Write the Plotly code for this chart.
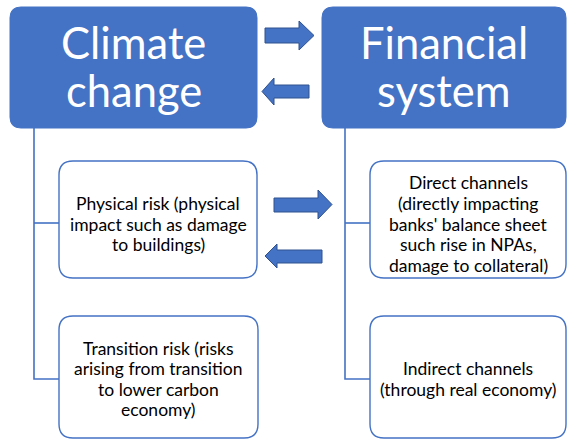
import plotly.graph_objects as go

W, H = 567, 440
BLUE = "#4472C4"
DARK = "#2F528F"

# ---- diagram content ----
top_titles = [["Climate", "change"], ["Financial", "system"]]
left_items = [
    ["Physical risk (physical", "impact such as damage", "to buildings)"],
    ["Transition risk (risks", "arising from transition", "to lower carbon", "economy)"],
]
right_items = [
    ["Direct channels", "(directly impacting", "banks' balance sheet", "such rise in NPAs,", "damage to collateral)"],
    ["Indirect channels", "(through real economy)"],
]

# ---- layout geometry (pixels, y downward) ----
top_boxes = [(10, 7, 257, 128), (322, 7, 566, 128)]
sub_boxes_left = [(59, 161, 257, 278), (59, 316, 258, 438)]
sub_boxes_right = [(370, 161, 566, 278), (370, 316, 566, 438)]
text_centers_y = [224, 379, 224, 379]


def rrect(x0, y0, x1, y1, r):
    return (f"M {x0+r},{y0} L {x1-r},{y0} Q {x1},{y0} {x1},{y0+r} "
            f"L {x1},{y1-r} Q {x1},{y1} {x1-r},{y1} L {x0+r},{y1} "
            f"Q {x0},{y1} {x0},{y1-r} L {x0},{y0+r} Q {x0},{y0} {x0+r},{y0} Z")


def arrow(x_tail, x_head_base, x_tip, ys0, ys1, yh0, yh1):
    ym = (yh0 + yh1) / 2
    return (f"M {x_tail},{ys0} L {x_head_base},{ys0} L {x_head_base},{yh0} "
            f"L {x_tip},{ym} L {x_head_base},{yh1} L {x_head_base},{ys1} "
            f"L {x_tail},{ys1} Z")


shapes = []
# connectors
for (vx, bx, y_top, ys) in [(34, 59, 128, [223, 379]), (345, 370, 128, [223, 379])]:
    shapes.append(dict(type="path", path=f"M {vx},{y_top} L {vx},{ys[1]} L {bx},{ys[1]}",
                       line=dict(color=BLUE, width=1.6), xref="x", yref="y"))
    shapes.append(dict(type="line", x0=vx, x1=bx, y0=ys[0], y1=ys[0],
                       line=dict(color=BLUE, width=1.6), xref="x", yref="y"))

for b in top_boxes:
    shapes.append(dict(type="path", path=rrect(*b, 11), fillcolor=BLUE,
                       line=dict(color=BLUE, width=1), xref="x", yref="y"))
for b in sub_boxes_left + sub_boxes_right:
    shapes.append(dict(type="path", path=rrect(*b, 14), fillcolor="white",
                       line=dict(color=BLUE, width=1.4), xref="x", yref="y"))

arrows = [
    arrow(265, 299, 314, 28, 43, 21, 50),
    arrow(309, 274, 262, 85, 98, 78, 105),
    arrow(274, 318, 332, 198, 212, 190, 219),
    arrow(322, 277, 265, 250, 263, 244, 268),
]
for p in arrows:
    shapes.append(dict(type="path", path=p, fillcolor=BLUE,
                       line=dict(color=DARK, width=1), xref="x", yref="y"))

annotations = []
for b, lines in zip(top_boxes, top_titles):
    cx = (b[0] + b[2]) / 2
    for i, t in enumerate(lines):
        annotations.append(dict(x=cx, y=42 + 48 * i, text=t, showarrow=False,
                                xanchor="center", yanchor="middle",
                                font=dict(family="Lato", size=43.5, color="white")))

LS = 20.6
for b, lines, cy in zip(sub_boxes_left + sub_boxes_right, left_items + right_items, text_centers_y):
    cx = (b[0] + b[2]) / 2
    n = len(lines)
    for i, t in enumerate(lines):
        annotations.append(dict(x=cx, y=cy + (i - (n - 1) / 2) * LS, text=t, showarrow=False,
                                xanchor="center", yanchor="middle", align="center",
                                font=dict(family="Lato", size=17.5, color="black")))

fig = go.Figure()
fig.update_layout(
    width=W, height=H, margin=dict(l=0, r=0, t=0, b=0, pad=0),
    paper_bgcolor="white", plot_bgcolor="white",
    xaxis=dict(range=[0, W], visible=False, fixedrange=True),
    yaxis=dict(range=[H, 0], visible=False, fixedrange=True),
    shapes=shapes, annotations=annotations, showlegend=False,
)
fig.write_html(
    "out.html",
    config={"displayModeBar": False},
    post_script="document.body.style.margin='0';document.body.style.overflow='hidden';",
)
